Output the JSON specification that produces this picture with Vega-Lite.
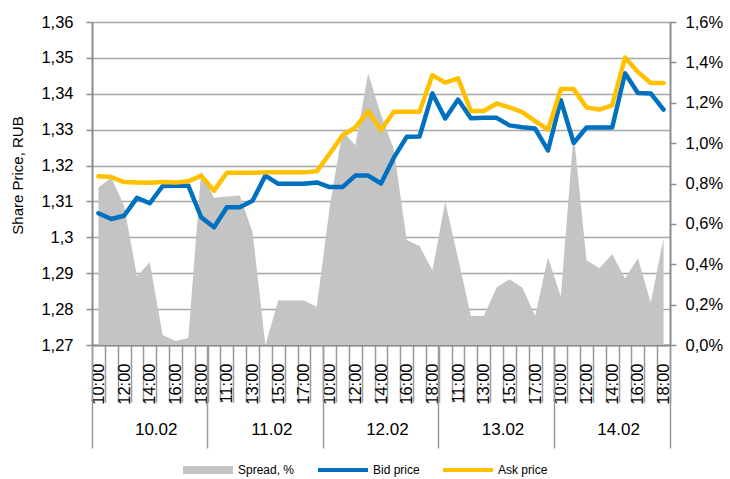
{
  "$schema": "https://vega.github.io/schema/vega-lite/v6.json",
  "width": 578,
  "height": 323,
  "autosize": {"type": "none"},
  "padding": {"left": 92, "top": 22, "right": 60, "bottom": 134},
  "background": "white",
  "config": {
    "font": "Liberation Sans",
    "view": {"stroke": null},
    "axis": {"labelColor": "#000000", "titleColor": "#000000", "labelFont": "Liberation Sans", "titleFont": "Liberation Sans"},
    "legend": {"labelFont": "Liberation Sans", "labelColor": "#000000"}
  },
  "data": {
    "values": [
      {"t": "10.02 10:00", "bid": 1.3067, "ask": 1.3170, "spread": 0.78},
      {"t": "10.02 11:00", "bid": 1.3051, "ask": 1.3168, "spread": 0.83},
      {"t": "10.02 12:00", "bid": 1.3060, "ask": 1.3154, "spread": 0.69},
      {"t": "10.02 13:00", "bid": 1.3110, "ask": 1.3153, "spread": 0.34},
      {"t": "10.02 14:00", "bid": 1.3095, "ask": 1.3152, "spread": 0.41},
      {"t": "10.02 15:00", "bid": 1.3143, "ask": 1.3154, "spread": 0.05},
      {"t": "10.02 16:00", "bid": 1.3144, "ask": 1.3153, "spread": 0.02},
      {"t": "10.02 17:00", "bid": 1.3144, "ask": 1.3156, "spread": 0.035},
      {"t": "10.02 18:00", "bid": 1.3056, "ask": 1.3172, "spread": 0.86},
      {"t": "11.02 10:00", "bid": 1.3028, "ask": 1.3130, "spread": 0.73},
      {"t": "11.02 11:00", "bid": 1.3084, "ask": 1.3180, "spread": 0.735},
      {"t": "11.02 12:00", "bid": 1.3084, "ask": 1.3180, "spread": 0.74},
      {"t": "11.02 13:00", "bid": 1.3102, "ask": 1.3180, "spread": 0.56},
      {"t": "11.02 14:00", "bid": 1.3172, "ask": 1.3181, "spread": 0.0},
      {"t": "11.02 15:00", "bid": 1.3149, "ask": 1.3181, "spread": 0.22},
      {"t": "11.02 16:00", "bid": 1.3149, "ask": 1.3181, "spread": 0.22},
      {"t": "11.02 17:00", "bid": 1.3149, "ask": 1.3181, "spread": 0.22},
      {"t": "11.02 18:00", "bid": 1.3153, "ask": 1.3184, "spread": 0.19},
      {"t": "12.02 10:00", "bid": 1.3140, "ask": 1.3233, "spread": 0.68},
      {"t": "12.02 11:00", "bid": 1.3140, "ask": 1.3284, "spread": 1.06},
      {"t": "12.02 12:00", "bid": 1.3172, "ask": 1.3306, "spread": 0.99},
      {"t": "12.02 13:00", "bid": 1.3172, "ask": 1.3351, "spread": 1.345},
      {"t": "12.02 14:00", "bid": 1.3150, "ask": 1.3299, "spread": 1.14},
      {"t": "12.02 15:00", "bid": 1.3222, "ask": 1.3350, "spread": 0.97},
      {"t": "12.02 16:00", "bid": 1.3280, "ask": 1.3350, "spread": 0.52},
      {"t": "12.02 17:00", "bid": 1.3281, "ask": 1.3350, "spread": 0.49},
      {"t": "12.02 18:00", "bid": 1.3401, "ask": 1.3452, "spread": 0.37},
      {"t": "13.02 10:00", "bid": 1.3331, "ask": 1.3431, "spread": 0.71},
      {"t": "13.02 11:00", "bid": 1.3384, "ask": 1.3443, "spread": 0.43},
      {"t": "13.02 12:00", "bid": 1.3332, "ask": 1.3352, "spread": 0.144},
      {"t": "13.02 13:00", "bid": 1.3333, "ask": 1.3352, "spread": 0.144},
      {"t": "13.02 14:00", "bid": 1.3333, "ask": 1.3373, "spread": 0.285},
      {"t": "13.02 15:00", "bid": 1.3312, "ask": 1.3362, "spread": 0.326},
      {"t": "13.02 16:00", "bid": 1.3307, "ask": 1.3349, "spread": 0.285},
      {"t": "13.02 17:00", "bid": 1.3303, "ask": 1.3324, "spread": 0.144},
      {"t": "13.02 18:00", "bid": 1.3242, "ask": 1.3300, "spread": 0.434},
      {"t": "14.02 10:00", "bid": 1.3382, "ask": 1.3413, "spread": 0.24},
      {"t": "14.02 11:00", "bid": 1.3263, "ask": 1.3413, "spread": 1.05},
      {"t": "14.02 12:00", "bid": 1.3306, "ask": 1.3362, "spread": 0.42},
      {"t": "14.02 13:00", "bid": 1.3306, "ask": 1.3356, "spread": 0.38},
      {"t": "14.02 14:00", "bid": 1.3306, "ask": 1.3368, "spread": 0.45},
      {"t": "14.02 15:00", "bid": 1.3457, "ask": 1.3501, "spread": 0.33},
      {"t": "14.02 16:00", "bid": 1.3402, "ask": 1.3461, "spread": 0.43},
      {"t": "14.02 17:00", "bid": 1.3401, "ask": 1.3430, "spread": 0.21},
      {"t": "14.02 18:00", "bid": 1.3356, "ask": 1.3430, "spread": 0.53}
    ]
  },
  "layer": [
    {
      "transform": [{"fold": ["spread"], "as": ["series", "value"]}],
      "mark": {"type": "area", "opacity": 1},
      "encoding": {
        "x": {
          "field": "t", "type": "ordinal",
          "scale": {"type": "band", "paddingInner": 0, "paddingOuter": 0},
          "axis": {
            "orient": "bottom", "title": null, "grid": false,
            "domain": true, "domainColor": "#8c8c8c", "domainWidth": 2,
            "ticks": true, "tickBand": "extent", "tickSize": 57, "tickColor": "#9a9a9a", "tickWidth": 1.5,
            "labelAngle": -90, "labelPadding": -39, "labelFontSize": 16.5,
            "labelOverlap": false, "labelBound": false, "labelFlush": false,
            "labelExpr": "isString(datum.value) && (parseInt(slice(datum.value,0,2)) + parseInt(slice(datum.value,6,8))) % 2 == 0 ? slice(datum.value,6) : ''"
          }
        },
        "y": {
          "field": "value", "type": "quantitative",
          "scale": {"domain": [0, 1.6], "nice": false, "zero": true},
          "axis": {
            "orient": "right", "title": null, "grid": false,
            "values": [0, 0.2, 0.4, 0.6, 0.8, 1, 1.2, 1.4, 1.6],
            "labelExpr": "replace(format(datum.value, '.1f'), '.', ',') + '%'",
            "labelFontSize": 16.5, "tickSize": 6, "labelPadding": 9,
            "domainColor": "#8c8c8c", "domainWidth": 2, "tickColor": "#8c8c8c", "tickWidth": 1.5,
            "labelOverlap": false, "labelBound": false, "labelFlush": false
          }
        },
        "color": {
          "field": "series", "type": "nominal",
          "scale": {"domain": ["spread", "bid", "ask"], "range": ["#c4c4c4", "#0070c0", "#ffc000"]},
          "legend": {
            "orient": "none", "legendX": 91, "legendY": 423, "direction": "horizontal",
            "title": null, "symbolSize": 2500, "labelFontSize": 12, "labelOffset": 5, "columnPadding": 23,
            "symbolType": "M-1,-0.12H1V0.12H-1Z", "symbolStrokeWidth": 0, "symbolOpacity": 1,
            "labelExpr": "datum.value == 'spread' ? 'Spread, %' : (datum.value == 'bid' ? 'Bid price' : 'Ask price')",
            "encode": {
              "symbols": {
                "update": {
                  "shape": {"signal": "datum.value == 'spread' ? 'M-1,-0.16H1V0.16H-1Z' : 'M-1,-0.08H1V0.08H-1Z'"}
                }
              }
            }
          }
        }
      }
    },
    {
      "transform": [{"fold": ["bid", "ask"], "as": ["series", "price"]}],
      "mark": {"type": "line", "strokeWidth": 4.5, "strokeJoin": "round", "strokeCap": "round"},
      "encoding": {
        "x": {
          "field": "t", "type": "ordinal",
          "scale": {"type": "band", "paddingInner": 0, "paddingOuter": 0},
          "axis": {
            "orient": "bottom", "title": null, "grid": false, "domain": false,
            "values": ["10.02 10:00", "11.02 10:00", "12.02 10:00", "13.02 10:00", "14.02 10:00"],
            "bandPosition": 0, "ticks": true, "tickSize": 103, "tickColor": "#9a9a9a", "tickWidth": 1.5,
            "labelAngle": 0, "labelAlign": "center", "labelBaseline": "middle",
            "labelOffset": 57.8, "labelPadding": -19, "labelFontSize": 17,
            "labelExpr": "isString(datum.value) ? slice(datum.value,0,5) : ''",
            "labelOverlap": false, "labelBound": false, "labelFlush": false
          }
        },
        "y": {
          "field": "price", "type": "quantitative",
          "scale": {"domain": [1.27, 1.36], "nice": false, "zero": false},
          "axis": {
            "orient": "left", "title": "Share Price, RUB",
            "titleFontSize": 15, "titleFontWeight": "normal",
            "titleAngle": -90, "titleBaseline": "bottom", "titleAlign": "center",
            "titleX": -67, "titleY": 153,
            "values": [1.27, 1.28, 1.29, 1.3, 1.31, 1.32, 1.33, 1.34, 1.35, 1.36],
            "labelExpr": "replace(format(datum.value, '.2~f'), '.', ',')",
            "labelFontSize": 16.5, "tickSize": 6, "labelPadding": 13,
            "domainColor": "#8c8c8c", "domainWidth": 2, "tickColor": "#8c8c8c", "tickWidth": 1.5,
            "grid": true, "gridColor": "#a6a6a6", "gridWidth": 1.5,
            "labelOverlap": false, "labelBound": false, "labelFlush": false
          }
        },
        "color": {"field": "series", "type": "nominal"}
      }
    },
    {
      "mark": {"type": "point", "opacity": 0},
      "encoding": {
        "x": {
          "field": "t", "type": "ordinal",
          "scale": {"type": "band", "paddingInner": 0, "paddingOuter": 0},
          "axis": {
            "orient": "bottom", "title": null, "grid": false, "domain": false,
            "values": ["14.02 18:00"], "bandPosition": 1,
            "ticks": true, "tickSize": 103, "tickColor": "#9a9a9a", "tickWidth": 1.5, "labels": false
          }
        },
        "y": {
          "field": "bid", "type": "quantitative",
          "scale": {"domain": [1.27, 1.36], "nice": false, "zero": false},
          "axis": null
        }
      }
    }
  ],
  "resolve": {"scale": {"y": "independent"}, "axis": {"x": "independent", "y": "independent"}}
}
